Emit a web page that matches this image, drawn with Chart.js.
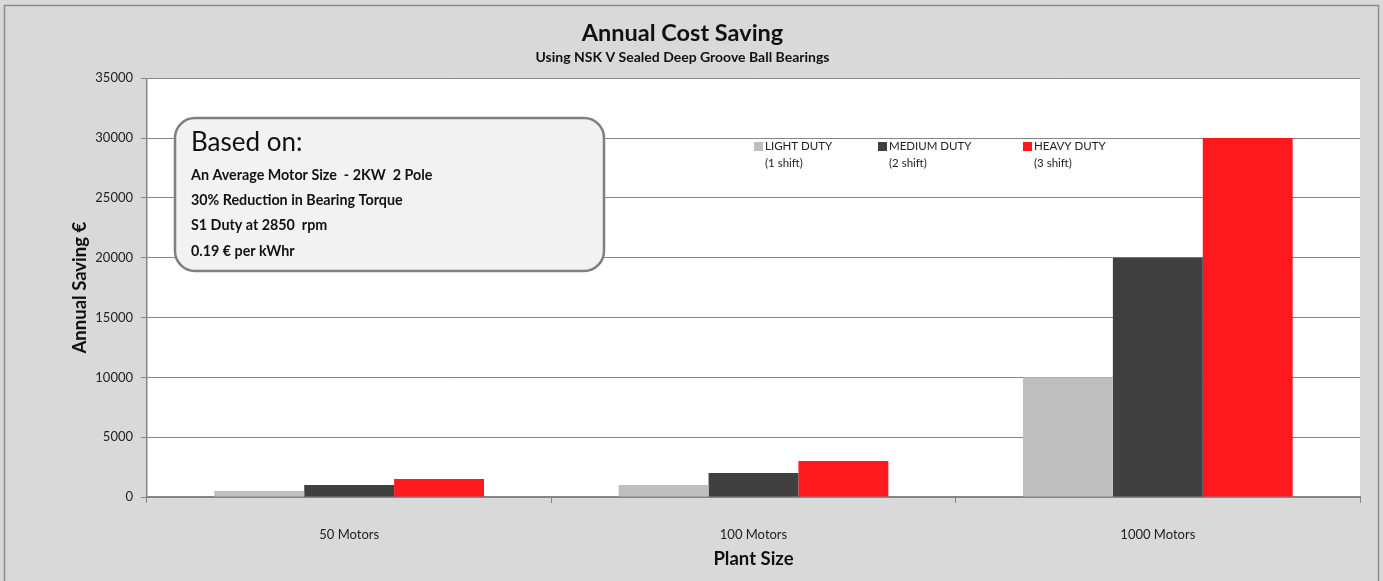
<!DOCTYPE html>
<html>
<head>
<meta charset="utf-8">
<script src="https://cdn.jsdelivr.net/npm/chart.js@4"></script>
<style>
html,body{margin:0;padding:0;background:#fff;}
#wrap{width:1383px;height:581px;position:relative;}
</style>
</head>
<body>
<div id="wrap"><canvas id="c" width="1383" height="581"></canvas></div>
<script>
const categories = ['50 Motors', '100 Motors', '1000 Motors'];
const seriesNames = ['LIGHT DUTY', 'MEDIUM DUTY', 'HEAVY DUTY'];
const shiftLabels = ['(1 shift)', '(2 shift)', '(3 shift)'];
const lightDuty = [500, 1000, 10000];
const mediumDuty = [1000, 2000, 20000];
const heavyDuty = [1500, 3000, 30000];
const seriesColors = ['#bfbfbf', '#404040', '#fe1a1c'];
const noteTitle = 'Based on:';
const noteLines = ['An Average Motor Size  - 2KW  2 Pole', '30% Reduction in Bearing Torque', 'S1 Duty at 2850  rpm', '0.19 € per kWhr'];

const FONT = 'Lato, "Open Sans", sans-serif';

const decor = {
  id: 'decor',
  beforeDraw(chart) {
    const ctx = chart.ctx, a = chart.chartArea;
    ctx.save();
    ctx.fillStyle = '#d9d9d9';
    ctx.fillRect(0, 0, chart.width, chart.height);
    ctx.strokeStyle = '#8c8c8c';
    ctx.lineWidth = 1.5;
    ctx.strokeRect(4.5, 5.5, 1374, 580);
    ctx.fillStyle = '#ffffff';
    ctx.fillRect(a.left, a.top, a.right - a.left, a.bottom - a.top);
    ctx.restore();
  },
  afterDraw(chart) {
    const ctx = chart.ctx;
    ctx.save();
    // annotation box
    const x = 175, y = 118, w = 429, h = 153, r = 20;
    ctx.beginPath();
    ctx.roundRect(x, y, w, h, r);
    ctx.fillStyle = '#f2f2f2';
    ctx.fill();
    ctx.lineWidth = 2.5;
    ctx.strokeStyle = '#7f7f7f';
    ctx.stroke();
    ctx.fillStyle = '#111';
    ctx.textBaseline = 'middle';
    ctx.textAlign = 'left';
    ctx.font = '26px ' + FONT;
    ctx.fillText(noteTitle, 191, 143);
    ctx.font = 'bold 14.3px ' + FONT;
    noteLines.forEach((t, i) => ctx.fillText(t, 191, 175 + i * 25.3));
    // legend
    const lx = [754, 878, 1023];
    ctx.font = '11.5px ' + FONT;
    chart.data.datasets.forEach((ds, i) => {
      ctx.fillStyle = ds.backgroundColor;
      ctx.fillRect(lx[i], 142, 9, 9);
      ctx.fillStyle = '#222';
      ctx.fillText(seriesNames[i], lx[i] + 11, 146.5);
      ctx.fillText(shiftLabels[i], lx[i] + 11, 163.5);
    });
    ctx.restore();
  }
};

new Chart(document.getElementById('c'), {
  type: 'bar',
  data: {
    labels: categories,
    datasets: [
      { label: seriesNames[0], data: lightDuty, backgroundColor: seriesColors[0] },
      { label: seriesNames[1], data: mediumDuty, backgroundColor: seriesColors[1] },
      { label: seriesNames[2], data: heavyDuty, backgroundColor: seriesColors[2] }
    ]
  },
  options: {
    responsive: false,
    animation: false,
    devicePixelRatio: 1,
    layout: { padding: { left: 5, right: 23, top: 0, bottom: 0 } },
    datasets: { bar: { categoryPercentage: 0.667, barPercentage: 1.0 } },
    plugins: {
      legend: { display: false },
      tooltip: { enabled: false },
      title: {
        display: true,
        text: 'Annual Cost Saving',
        color: '#111',
        font: { family: FONT, size: 23.5, weight: 'bold', lineHeight: 1.1 },
        padding: { top: 20, bottom: 0 }
      },
      subtitle: {
        display: true,
        text: 'Using NSK V Sealed Deep Groove Ball Bearings',
        color: '#111',
        font: { family: FONT, size: 14, weight: 'bold', lineHeight: 1.1 },
        padding: { top: 4, bottom: 13 }
      }
    },
    scales: {
      x: {
        afterFit(s) { s.height = 581 - 497; },
        grid: { display: true, offset: true, drawOnChartArea: false, drawTicks: true, tickLength: 6, color: '#868686' },
        border: { display: true, color: '#868686', width: 2 },
        ticks: { color: '#222', font: { family: FONT, size: 13 }, padding: 24 },
        title: { display: true, text: 'Plant Size', color: '#111', font: { family: FONT, size: 18.5, weight: 'bold', lineHeight: 1.2 }, padding: { top: 0, bottom: 11 } }
      },
      y: {
        min: 0, max: 35000,
        afterFit(s) { s.width = 142; },
        ticks: { stepSize: 5000, color: '#222', font: { family: FONT, size: 13 }, padding: 8, callback: (v) => String(v) },
        grid: { color: '#868686', lineWidth: 1, tickLength: 6 },
        border: { display: true, color: '#868686', width: 1.5 },
        title: { display: true, text: 'Annual Saving €', color: '#111', font: { family: FONT, size: 18.5, weight: 'bold', lineHeight: 1.2 }, padding: { top: 64, bottom: 0 } }
      }
    }
  },
  plugins: [decor]
});
</script>
</body>
</html>
